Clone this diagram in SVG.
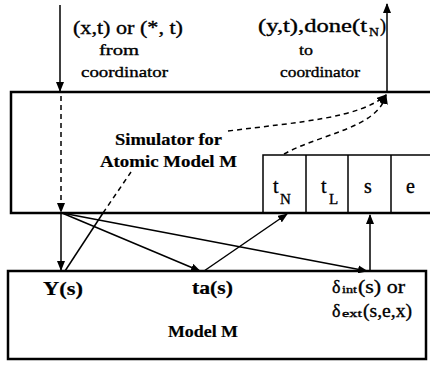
<svg xmlns="http://www.w3.org/2000/svg" width="430" height="367" viewBox="0 0 430 367">
<style>
text{font-family:"Liberation Serif","Times New Roman",serif;fill:#000;stroke:#000;stroke-width:0.35}
.b{font-weight:bold;stroke-width:0.2}
.box{fill:none;stroke:#000;stroke-width:2.5}
.cell{fill:none;stroke:#000;stroke-width:1.5}
.c{fill:none;stroke:#000;stroke-width:1.5}
.d{fill:none;stroke:#000;stroke-width:1.5;stroke-dasharray:5 4}
</style>
<defs>
<marker id="ah" markerWidth="10" markerHeight="8" refX="9" refY="4" orient="auto" markerUnits="userSpaceOnUse"><path d="M0,0 L10,4 L0,8 z" fill="#000"/></marker>
</defs>
<rect width="430" height="367" fill="#fff"/>

<g id="input-label">
<text x="73" y="34" font-size="19" textLength="110" lengthAdjust="spacingAndGlyphs">(x,t) or (*, t)</text>
<text x="99" y="55" font-size="15" textLength="40" lengthAdjust="spacingAndGlyphs">from</text>
<text x="81" y="77" font-size="15" textLength="87" lengthAdjust="spacingAndGlyphs">coordinator</text>
</g>

<g id="output-label">
<text x="258" y="32" font-size="19" textLength="109" lengthAdjust="spacingAndGlyphs">(y,t),done(t</text>
<text x="369" y="36" font-size="13" textLength="10" lengthAdjust="spacingAndGlyphs">N</text>
<text x="380" y="32" font-size="19" textLength="6" lengthAdjust="spacingAndGlyphs">)</text>
<text x="299" y="55" font-size="15" textLength="14" lengthAdjust="spacingAndGlyphs">to</text>
<text x="280" y="77" font-size="15" textLength="80" lengthAdjust="spacingAndGlyphs">coordinator</text>
</g>

<g id="simulator">
<path class="box" d="M432,92 H11 V213 H432"/>
<text class="b" x="115" y="145" font-size="17" textLength="107" lengthAdjust="spacingAndGlyphs">Simulator for</text>
<text class="b" x="100" y="167" font-size="17" textLength="137" lengthAdjust="spacingAndGlyphs">Atomic Model M</text>
</g>

<g id="state">
<rect class="cell" x="263" y="155" width="170" height="58"/>
<line class="cell" x1="306" y1="155" x2="306" y2="213"/>
<line class="cell" x1="348" y1="155" x2="348" y2="213"/>
<line class="cell" x1="391" y1="155" x2="391" y2="213"/>
<text x="273" y="193" font-size="20">t</text>
<text x="280" y="204" font-size="15">N</text>
<text x="321" y="193" font-size="20">t</text>
<text x="329" y="204" font-size="15">L</text>
<text x="364" y="193" font-size="20">s</text>
<text x="406" y="193" font-size="20">e</text>
</g>

<g id="model">
<rect class="box" x="8" y="271" width="418" height="88"/>
<text class="b" x="43" y="295" font-size="18" textLength="40" lengthAdjust="spacingAndGlyphs">Y(s)</text>
<text class="b" x="192" y="294" font-size="18" textLength="41" lengthAdjust="spacingAndGlyphs">ta(s)</text>
<text x="332" y="293" font-size="18">δ</text>
<text x="342" y="293" font-size="11" textLength="15" lengthAdjust="spacingAndGlyphs">int</text>
<text x="358" y="293" font-size="19" textLength="47" lengthAdjust="spacingAndGlyphs">(s) or</text>
<text x="332" y="317" font-size="18">δ</text>
<text x="342" y="317" font-size="11" textLength="20" lengthAdjust="spacingAndGlyphs">ext</text>
<text x="363" y="317" font-size="19" textLength="49" lengthAdjust="spacingAndGlyphs">(s,e,x)</text>
<text class="b" x="168" y="337" font-size="17" textLength="70" lengthAdjust="spacingAndGlyphs">Model M</text>
</g>

<g id="connectors">
<line class="c" x1="60" y1="5" x2="60" y2="91" marker-end="url(#ah)"/>
<line class="d" x1="61" y1="96" x2="61" y2="212" marker-end="url(#ah)"/>
<line class="c" x1="61" y1="214" x2="61" y2="270" marker-end="url(#ah)"/>
<line class="c" x1="62" y1="213" x2="200" y2="271" marker-end="url(#ah)"/>
<line class="c" x1="62" y1="213" x2="367" y2="271" marker-end="url(#ah)"/>
<line class="c" x1="65" y1="271" x2="103" y2="213"/>
<line class="d" x1="103" y1="213" x2="131" y2="172"/>
<line class="c" x1="204" y1="271" x2="287" y2="214" marker-end="url(#ah)"/>
<line class="c" x1="370" y1="271" x2="370" y2="215" marker-end="url(#ah)"/>
<line class="c" x1="387" y1="92" x2="387" y2="4" marker-end="url(#ah)"/>
<path class="d" d="M228,131 C300,122 360,118 386,95" marker-end="url(#ah)"/>
<path class="d" d="M284,154 C320,134 378,128 386,95" marker-end="url(#ah)"/>
</g>
</svg>
